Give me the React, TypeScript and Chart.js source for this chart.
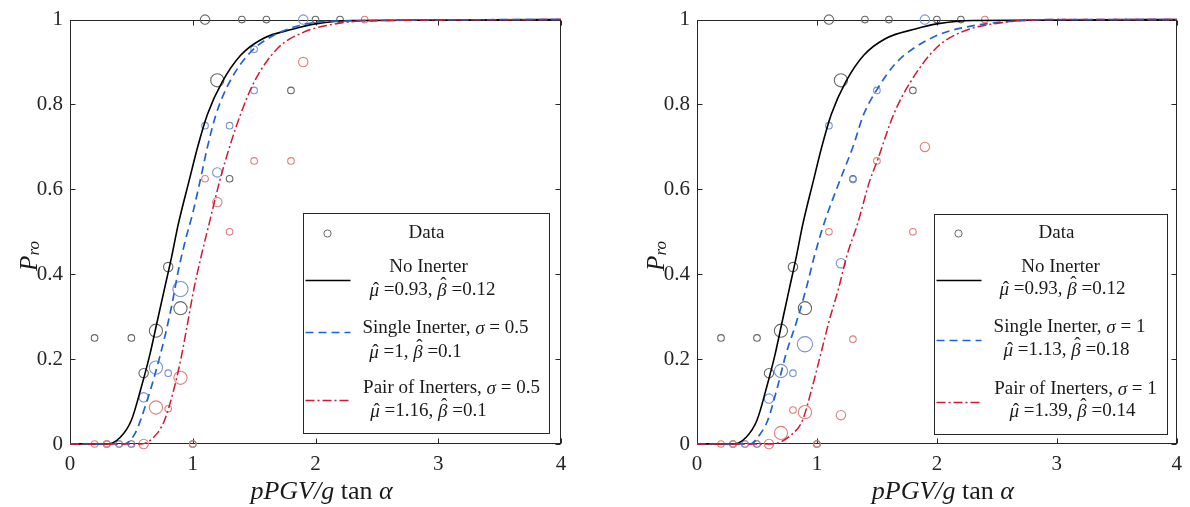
import React, { useEffect, useRef } from "react";
import { Chart, registerables } from "chart.js";

Chart.register(...registerables);

// ---------------- data ----------------
const xTickValues = [0, 1, 2, 3, 4];
const yTickValues = [0, 0.2, 0.4, 0.6, 0.8, 1];
const yTickLabels = ["0", "0.2", "0.4", "0.6", "0.8", "1"];

// fitted fragility curves
const noInerterCurveX = [0, 0.3, 0.41, 0.5, 0.58, 0.65, 0.71, 0.77, 0.83, 0.88, 0.97, 1.04, 1.12, 1.24, 1.39, 1.57, 1.82, 2.0, 2.3, 4];
const noInerterCurveY = [0, 0, 0.016, 0.056, 0.133, 0.21, 0.288, 0.366, 0.444, 0.515, 0.62, 0.7, 0.777, 0.853, 0.916, 0.955, 0.978, 0.99, 0.998, 1];

const singleHalfCurveX = [0, 0.44, 0.53, 0.62, 0.7, 0.77, 0.83, 0.88, 0.94, 1.0, 1.06, 1.12, 1.19, 1.3, 1.47, 1.66, 1.87, 2.1, 4];
const singleHalfCurveY = [0, 0, 0.025, 0.095, 0.172, 0.25, 0.328, 0.405, 0.48, 0.544, 0.62, 0.7, 0.777, 0.853, 0.923, 0.963, 0.986, 0.996, 1];

const pairHalfCurveX = [0, 0.58, 0.71, 0.77, 0.85, 0.91, 0.96, 1.01, 1.07, 1.13, 1.22, 1.3, 1.39, 1.5, 1.69, 1.9, 2.09, 2.4, 4];
const pairHalfCurveY = [0, 0, 0.025, 0.056, 0.133, 0.21, 0.288, 0.366, 0.444, 0.515, 0.62, 0.7, 0.777, 0.853, 0.932, 0.97, 0.986, 0.997, 1];

const singleOneCurveX = [0, 0.44, 0.53, 0.59, 0.67, 0.74, 0.83, 0.91, 0.98, 1.06, 1.19, 1.3, 1.39, 1.5, 1.65, 1.82, 2.02, 2.2, 2.5, 3, 4];
const singleOneCurveY = [0, 0, 0.025, 0.056, 0.133, 0.21, 0.288, 0.366, 0.444, 0.52, 0.62, 0.7, 0.777, 0.835, 0.895, 0.935, 0.965, 0.98, 0.993, 1, 1];

const pairOneCurveX = [0, 0.62, 0.8, 0.88, 0.96, 1.03, 1.1, 1.18, 1.25, 1.34, 1.44, 1.5, 1.64, 1.78, 1.99, 2.2, 2.6, 3, 4];
const pairOneCurveY = [0, 0, 0.025, 0.056, 0.133, 0.21, 0.288, 0.366, 0.444, 0.52, 0.62, 0.665, 0.777, 0.853, 0.932, 0.97, 0.995, 1, 1];

// observed data (x, probability, sample weight class)
const noInerterDataX = [0.2, 0.3, 0.5, 0.6, 0.7, 0.8, 0.9, 1.0, 1.1, 1.2, 1.3, 1.4, 1.6, 1.8, 2.0, 2.2];
const noInerterDataY = [0.25, 0, 0.25, 0.167, 0.267, 0.417, 0.32, 0, 1, 0.857, 0.625, 1, 1, 0.833, 1, 1];
const noInerterDataW = [1, 1, 1, 2, 3, 2, 3, 1, 2, 3, 1, 1, 1, 1, 1, 1];

const singleHalfDataX = [0.4, 0.5, 0.6, 0.7, 0.8, 0.9, 1.1, 1.2, 1.3, 1.5, 1.5, 1.9];
const singleHalfDataY = [0, 0, 0.11, 0.18, 0.167, 0.365, 0.75, 0.64, 0.75, 0.833, 0.93, 1];
const singleHalfDataW = [1, 1, 2, 3, 1, 4, 1, 2, 1, 1, 1, 2];

const pairHalfDataX = [0.2, 0.3, 0.4, 0.5, 0.6, 0.7, 0.8, 0.9, 1.0, 1.1, 1.2, 1.3, 1.5, 1.8, 1.9, 2.4];
const pairHalfDataY = [0, 0, 0, 0, 0, 0.086, 0.083, 0.156, 0, 0.625, 0.57, 0.5, 0.667, 0.667, 0.9, 1];
const pairHalfDataW = [1, 1, 1, 1, 2, 3, 1, 3, 1, 1, 2, 1, 1, 1, 2, 1];

const singleOneDataX = [0.4, 0.5, 0.6, 0.7, 0.8, 0.9, 1.1, 1.2, 1.3, 1.5, 1.9];
const singleOneDataY = [0, 0, 0.107, 0.172, 0.167, 0.235, 0.75, 0.426, 0.623, 0.833, 1];
const singleOneDataW = [1, 1, 2, 3, 1, 4, 1, 2, 1, 1, 2];

const pairOneDataX = [0.2, 0.3, 0.4, 0.5, 0.6, 0.7, 0.8, 0.9, 1.0, 1.1, 1.2, 1.3, 1.5, 1.8, 1.9, 2.4];
const pairOneDataY = [0, 0, 0, 0, 0, 0.026, 0.08, 0.075, 0, 0.5, 0.068, 0.247, 0.667, 0.5, 0.7, 1];
const pairOneDataW = [1, 1, 1, 1, 2, 3, 1, 3, 1, 1, 2, 1, 1, 1, 2, 1];

// legend texts
const noInerterFit = ["0.93", "0.12"];
const singleHalfFit = ["1", "0.1"];
const pairHalfFit = ["1.16", "0.1"];
const singleOneFit = ["1.13", "0.18"];
const pairOneFit = ["1.39", "0.14"];

// ---------------- styles ----------------
const FONT = '"Liberation Serif", "DejaVu Serif", serif';
const AXIS_COLOR = "#262626";
const TEXT_COLOR = "#1a1a1a";
const MARK_GRAY = "#666666";
const MARK_BLUE = "#7892d6";
const MARK_RED = "#e07f7f";
const LINE_BLACK = "#000000";
const LINE_BLUE = "#2262cf";
const LINE_RED = "#d3182f";
const radiusByWeight = [0, 3.3, 4.7, 6.6, 7.6];

type Pt = { x: number; y: number };
const pts = (xs: number[], ys: number[]): Pt[] => xs.map((x, i) => ({ x, y: ys[i] }));

type Run = { t: string; it?: boolean; sz?: number; dy?: number; hat?: number };

function drawRuns(ctx: CanvasRenderingContext2D, runs: Run[], x: number, y: number, size: number) {
  const fontOf = (r: Run) => `${r.it ? "italic " : ""}${r.sz || size}px ${FONT}`;
  const ws = runs.map((r) => {
    ctx.font = fontOf(r);
    return ctx.measureText(r.t).width;
  });
  const tot = ws.reduce((a, b) => a + b, 0);
  let cx = x - tot / 2;
  ctx.textBaseline = "middle";
  runs.forEach((r, i) => {
    ctx.font = fontOf(r);
    ctx.textAlign = "left";
    ctx.fillText(r.t, cx, y + (r.dy || 0));
    if (r.hat !== undefined) {
      ctx.font = `${r.sz || size}px ${FONT}`;
      ctx.textAlign = "center";
      ctx.fillText("\u02c6", cx + ws[i] / 2 + 1.5, y + (r.dy || 0) - r.hat);
    }
    cx += ws[i];
  });
}

const fitRuns = (fit: string[]): Run[] => [
  { t: "\u03bc", it: true, hat: 0 },
  { t: " =" + fit[0] + ", " },
  { t: "\u03b2", it: true, hat: 5 },
  { t: " =" + fit[1] },
];
const nameRuns = (name: string, sigma: string): Run[] => [
  { t: name + ", " },
  { t: "\u03c3", it: true },
  { t: " = " + sigma },
];

interface Layout {
  boxLeft: number;
  boxTop: number;
  w: number;
  circ: number[];
  data: number[];
  l1: number;
  t1: number[];
  t2: number[];
  l2: number;
  t3: number[];
  t4: number[];
  l3: number;
  t5: number[];
  t6: number[];
}

interface Spec {
  sigma: string;
  singleFit: string[];
  pairFit: string[];
  singleCurve: Pt[];
  pairCurve: Pt[];
  noData: { p: Pt[]; w: number[] };
  singleData: { p: Pt[]; w: number[] };
  pairData: { p: Pt[]; w: number[] };
  padLeft: number;
  padRight: number;
  layout: Layout;
}

const leftSpec: Spec = {
  sigma: "0.5",
  singleFit: singleHalfFit,
  pairFit: pairHalfFit,
  singleCurve: pts(singleHalfCurveX, singleHalfCurveY),
  pairCurve: pts(pairHalfCurveX, pairHalfCurveY),
  noData: { p: pts(noInerterDataX, noInerterDataY), w: noInerterDataW },
  singleData: { p: pts(singleHalfDataX, singleHalfDataY), w: singleHalfDataW },
  pairData: { p: pts(pairHalfDataX, pairHalfDataY), w: pairHalfDataW },
  padLeft: 0,
  padRight: 34,
  layout: {
    boxLeft: -258, boxTop: -231, w: 246,
    circ: [24, 20], data: [123, 20],
    l1: 67, t1: [125, 54], t2: [129, 77],
    l2: 119, t3: [142, 115], t4: [112, 139],
    l3: 187, t5: [148, 175], t6: [125, 198],
  },
};

const rightSpec: Spec = {
  sigma: "1",
  singleFit: singleOneFit,
  pairFit: pairOneFit,
  singleCurve: pts(singleOneCurveX, singleOneCurveY),
  pairCurve: pts(pairOneCurveX, pairOneCurveY),
  noData: { p: pts(noInerterDataX, noInerterDataY), w: noInerterDataW },
  singleData: { p: pts(singleOneDataX, singleOneDataY), w: singleOneDataW },
  pairData: { p: pts(pairOneDataX, pairOneDataY), w: pairOneDataW },
  padLeft: 32,
  padRight: 4,
  layout: {
    boxLeft: -243, boxTop: -230, w: 233,
    circ: [24, 19], data: [122, 19],
    l1: 66, t1: [126, 53], t2: [128, 75],
    l2: 126, t3: [135, 113], t4: [132, 136],
    l3: 188, t5: [141, 175], t6: [138, 197],
  },
};

function makePlugin(spec: Spec) {
  return {
    id: "frame",
    beforeDatasetsDraw(chart: any) {
      const { ctx, chartArea: a, scales } = chart;
      const xs = scales.x;
      const ys = scales.y;
      ctx.save();
      ctx.strokeStyle = AXIS_COLOR;
      ctx.lineWidth = 1;
      const L = Math.round(a.left) + 0.5;
      const R = Math.round(a.right) - 0.5;
      const T = Math.round(a.top) + 0.5;
      const B = Math.round(a.bottom) - 0.5;
      ctx.strokeRect(L, T, R - L, B - T);
      ctx.beginPath();
      const tl = 5;
      xTickValues.forEach((v) => {
        const px = Math.round(xs.getPixelForValue(v)) + 0.5;
        ctx.moveTo(px, B);
        ctx.lineTo(px, B - tl);
        ctx.moveTo(px, T);
        ctx.lineTo(px, T + tl);
      });
      yTickValues.forEach((v) => {
        const py = Math.round(ys.getPixelForValue(v)) + 0.5;
        ctx.moveTo(L, py);
        ctx.lineTo(L + tl, py);
        ctx.moveTo(R, py);
        ctx.lineTo(R - tl, py);
      });
      ctx.stroke();
      ctx.restore();
    },
    afterDraw(chart: any) {
      const { ctx, chartArea: a } = chart;
      ctx.save();
      ctx.fillStyle = TEXT_COLOR;
      // x title
      drawRuns(
        ctx,
        [{ t: "pPGV/g", it: true }, { t: " tan " }, { t: "\u03b1", it: true }],
        (a.left + a.right) / 2 + 6,
        492,
        26
      );
      // y title
      ctx.save();
      ctx.translate(a.left - 40, 256);
      ctx.rotate(-Math.PI / 2);
      drawRuns(ctx, [{ t: "P", it: true }, { t: "ro", it: true, sz: 17, dy: 5 }], 0, 0, 25);
      ctx.restore();

      // legend
      const lay = spec.layout;
      const bx = Math.round(a.right + lay.boxLeft) + 0.5;
      const by = Math.round(a.bottom + lay.boxTop) + 0.5;
      ctx.fillStyle = "#ffffff";
      ctx.fillRect(bx, by, lay.w, 220);
      ctx.strokeStyle = AXIS_COLOR;
      ctx.lineWidth = 1;
      ctx.strokeRect(bx, by, lay.w, 220);
      ctx.beginPath();
      ctx.strokeStyle = MARK_GRAY;
      ctx.arc(bx + lay.circ[0], by + lay.circ[1], 3.6, 0, Math.PI * 2);
      ctx.stroke();
      const seg = (yy: number, color: string, dash: number[], w: number) => {
        ctx.beginPath();
        ctx.strokeStyle = color;
        ctx.lineWidth = w;
        ctx.setLineDash(dash);
        ctx.moveTo(bx + 2, by + yy);
        ctx.lineTo(bx + 47, by + yy);
        ctx.stroke();
        ctx.setLineDash([]);
      };
      seg(lay.l1, LINE_BLACK, [], 1.6);
      seg(lay.l2, LINE_BLUE, [8, 5], 1.6);
      seg(lay.l3, LINE_RED, [9, 3, 2, 3], 1.5);
      ctx.fillStyle = TEXT_COLOR;
      const fs = 19;
      drawRuns(ctx, [{ t: "Data" }], bx + lay.data[0], by + lay.data[1], fs);
      drawRuns(ctx, [{ t: "No Inerter" }], bx + lay.t1[0], by + lay.t1[1], fs);
      drawRuns(ctx, fitRuns(noInerterFit), bx + lay.t2[0], by + lay.t2[1], fs);
      drawRuns(ctx, nameRuns("Single Inerter", spec.sigma), bx + lay.t3[0], by + lay.t3[1], fs);
      drawRuns(ctx, fitRuns(spec.singleFit), bx + lay.t4[0], by + lay.t4[1], fs);
      drawRuns(ctx, nameRuns("Pair of Inerters", spec.sigma), bx + lay.t5[0], by + lay.t5[1], fs);
      drawRuns(ctx, fitRuns(spec.pairFit), bx + lay.t6[0], by + lay.t6[1], fs);
      ctx.restore();
    },
  };
}

function markerSet(d: { p: Pt[]; w: number[] }, color: string) {
  return {
    data: d.p,
    showLine: false,
    pointStyle: "circle",
    pointRadius: d.w.map((w) => radiusByWeight[w]),
    pointBorderWidth: 1.1,
    pointBorderColor: color,
    pointBackgroundColor: "rgba(0,0,0,0)",
    borderColor: color,
    clip: false,
  };
}

function curveSet(data: Pt[], color: string, dash: number[], width: number) {
  return {
    data,
    showLine: true,
    pointRadius: 0,
    borderColor: color,
    borderWidth: width,
    borderDash: dash,
    cubicInterpolationMode: "monotone",
    fill: false,
    clip: false,
  };
}

function Panel({ spec, left }: { spec: Spec; left: number }) {
  const ref = useRef<HTMLCanvasElement | null>(null);
  useEffect(() => {
    if (!ref.current) return;
    const tickFont = { family: FONT, size: 21 };
    const chart = new Chart(ref.current, {
      type: "scatter",
      data: {
        datasets: [
          curveSet(spec.pairCurve, LINE_RED, [9, 3, 2, 3], 1.5),
          curveSet(spec.singleCurve, LINE_BLUE, [8, 5], 1.7),
          curveSet(pts(noInerterCurveX, noInerterCurveY), LINE_BLACK, [], 1.6),
          markerSet(spec.singleData, MARK_BLUE),
          markerSet(spec.pairData, MARK_RED),
          markerSet(spec.noData, MARK_GRAY),
        ] as any,
      },
      options: {
        animation: false,
        responsive: false,
        maintainAspectRatio: false,
        layout: { padding: { left: spec.padLeft, right: spec.padRight, top: 14, bottom: 0 } },
        plugins: { legend: { display: false }, tooltip: { enabled: false } },
        events: [],
        scales: {
          x: {
            type: "linear",
            min: 0,
            max: 4,
            afterBuildTicks: (s: any) => {
              s.ticks = xTickValues.map((v) => ({ value: v }));
            },
            afterFit: (s: any) => {
              s.height = 63;
            },
            grid: { display: false, drawTicks: false },
            border: { display: false },
            ticks: { padding: 8, font: tickFont, color: AXIS_COLOR, maxRotation: 0, callback: (v: number) => String(v) },
          },
          y: {
            type: "linear",
            min: 0,
            max: 1,
            afterBuildTicks: (s: any) => {
              s.ticks = yTickValues.map((v) => ({ value: v }));
            },
            afterFit: (s: any) => {
              s.width = 70;
            },
            grid: { display: false, drawTicks: false },
            border: { display: false },
            ticks: {
              padding: 7,
              font: tickFont,
              color: AXIS_COLOR,
              callback: (_v: number, i: number) => yTickLabels[i],
            },
          },
        },
      } as any,
      plugins: [makePlugin(spec)],
    });
    return () => chart.destroy();
  }, [spec]);
  return (
    <canvas
      ref={ref}
      width={595}
      height={507}
      style={{ position: "absolute", left, top: 0, width: 595, height: 507 }}
    />
  );
}

export default function App() {
  return (
    <div
      style={{
        position: "fixed",
        left: 0,
        top: 0,
        width: 1190,
        height: 507,
        background: "#ffffff",
        overflow: "hidden",
      }}
    >
      <Panel spec={leftSpec} left={0} />
      <Panel spec={rightSpec} left={595} />
    </div>
  );
}
